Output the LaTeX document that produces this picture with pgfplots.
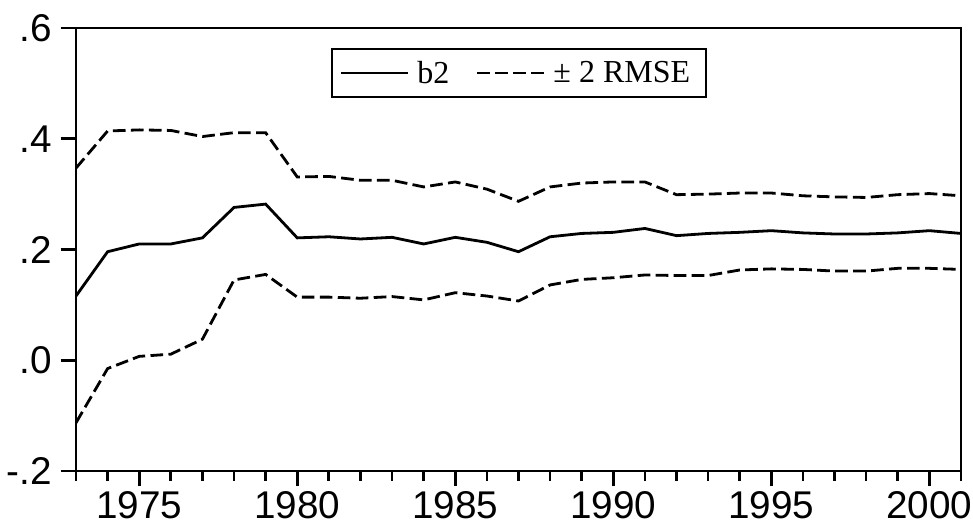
\documentclass[border=0pt]{standalone}
\usepackage{pgfplots}
\pgfplotsset{compat=1.18}
\usepackage{fontspec}
\setmainfont{Liberation Serif}
\newfontfamily\arialfont{Liberation Sans}
\pgfplotstableread{
year b2 up lo
1973 0.116 0.347 -0.113
1974 0.196 0.414 -0.015
1975 0.210 0.416 0.007
1976 0.210 0.415 0.011
1977 0.221 0.404 0.038
1978 0.276 0.411 0.145
1979 0.282 0.411 0.155
1980 0.221 0.331 0.114
1981 0.223 0.332 0.114
1982 0.219 0.325 0.112
1983 0.222 0.325 0.115
1984 0.210 0.313 0.109
1985 0.222 0.322 0.122
1986 0.213 0.309 0.116
1987 0.196 0.287 0.107
1988 0.223 0.313 0.136
1989 0.229 0.320 0.146
1990 0.231 0.322 0.149
1991 0.238 0.322 0.154
1992 0.225 0.299 0.153
1993 0.229 0.300 0.153
1994 0.231 0.302 0.163
1995 0.234 0.302 0.165
1996 0.230 0.297 0.164
1997 0.228 0.295 0.161
1998 0.228 0.294 0.161
1999 0.230 0.299 0.166
2000 0.234 0.301 0.166
2001 0.229 0.297 0.164
}\datatable
\begin{document}
\begin{tikzpicture}
\useasboundingbox (-57pt,-42pt) rectangle (672.75pt,353.25pt);
\begin{axis}[
  scale only axis,
  width=663.75pt, height=332.25pt,
  xmin=1973, xmax=2001, ymin=-0.2, ymax=0.6,
  axis line style={line width=2pt},
  every tick/.style={black, line width=2pt},
  tick pos=left,
  tick align=outside,
  xtick={1975,1980,1985,1990,1995,2000},
  xticklabels={1975,1980,1985,1990,1995,2000},
  minor xtick={1973,1974,...,2001},
  ytick={-0.2,0,0.2,0.4,0.6},
  yticklabels={-.2,.0,.2,.4,.6},
  major tick length=11.5pt,
  minor tick length=7.5pt,
  ticklabel style={font=\arialfont\fontsize{29}{29}\selectfont},
  xticklabel style={yshift=0pt},
  yticklabel style={xshift=-3pt},
  legend style={at={(0.288,0.955)}, anchor=north west, draw=black, line width=1.5pt,
    font=\fontsize{24}{24}\selectfont, legend columns=2,
    nodes={inner xsep=6pt},
    /tikz/every even column/.append style={column sep=14pt},
    inner xsep=6pt, inner ysep=7pt},
  legend cell align=left,
  legend image code/.code={\draw[#1] (0pt,0pt) -- (50pt,0pt);},
]
\addplot[black, line width=2.1pt] table[x=year,y=b2] {\datatable};
\addlegendentry{b2}
\addplot[black, line width=2.1pt, dash pattern=on 9.5pt off 4pt] table[x=year,y=up] {\datatable};
\addlegendentry{± 2 RMSE}
\addplot[black, line width=2.1pt, dash pattern=on 9.5pt off 4pt, forget plot] table[x=year,y=lo] {\datatable};
\end{axis}
\end{tikzpicture}
\end{document}
